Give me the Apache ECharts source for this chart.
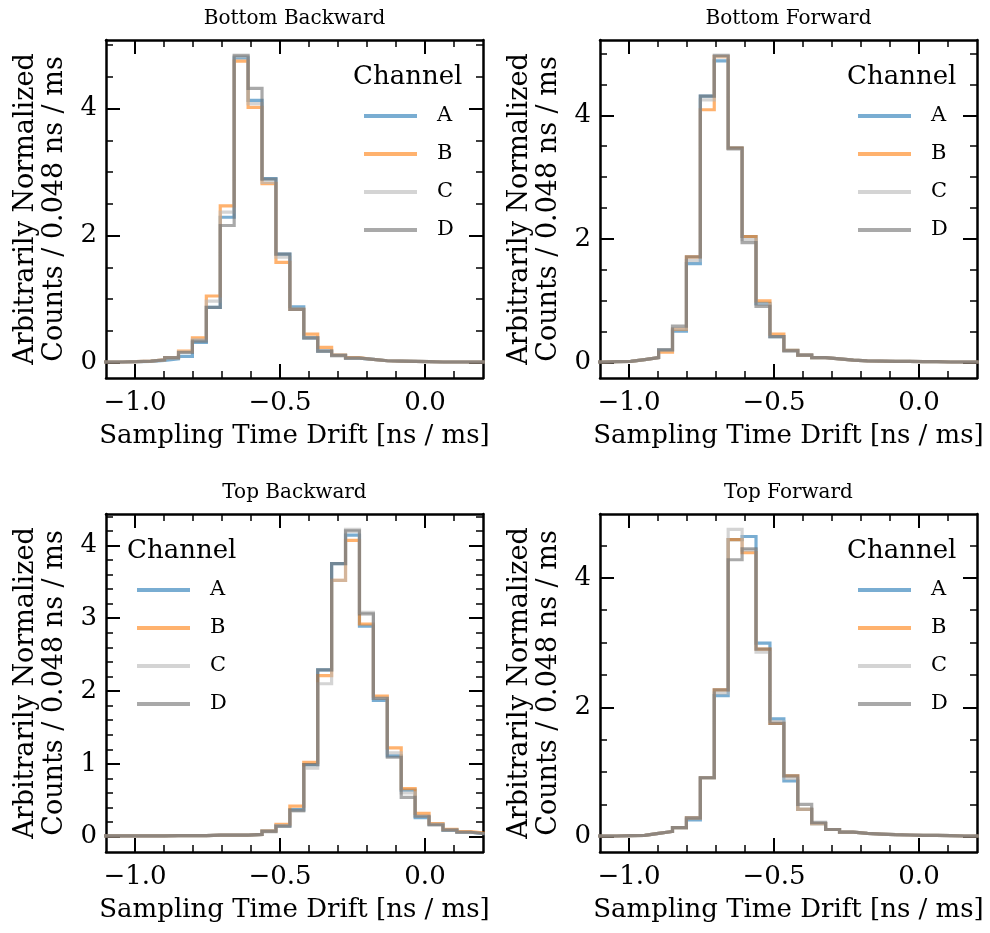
<!DOCTYPE html>
<html><head><meta charset="utf-8">
<script src="https://cdn.jsdelivr.net/npm/echarts@6/dist/echarts.min.js"></script>
<style>html,body{margin:0;padding:0;background:#fff}#c{width:990px;height:933px}</style>
</head><body><div id="c"></div>
<script>
// ---------------- data ----------------
const binStart = -1.138;   // left edge of first bin [ns / ms]
const binWidth = 0.048;    // bin width [ns / ms]
const channels = ['A', 'B', 'C', 'D'];
const panelTitles = ['Bottom Backward', 'Bottom Forward', 'Top Backward', 'Top Forward'];
const xRange = [-1.1, 0.2];
const xMajorTicks = [-1.0, -0.5, 0.0];
const xMinorTicks = [-0.9, -0.8, -0.7, -0.6, -0.4, -0.3, -0.2, -0.1, 0.1];
const yMajorTicks = [[0, 2, 4], [0, 2, 4], [0, 1, 2, 3, 4], [0, 2, 4]];
const yMinorTicks = [
  [0.5, 1, 1.5, 2.5, 3, 3.5, 4.5, 5],
  [0.5, 1, 1.5, 2.5, 3, 3.5, 4.5, 5],
  [0.2, 0.4, 0.6, 0.8, 1.2, 1.4, 1.6, 1.8, 2.2, 2.4, 2.6, 2.8, 3.2, 3.4, 3.6, 3.8, 4.2, 4.4],
  [0.5, 1, 1.5, 2.5, 3, 3.5, 4.5, 5]
];

// Bottom Backward
const bbA = [0.01,0.01,0.015,0.02,0.035,0.06,0.10,0.32,0.87,2.29,4.80,4.13,2.90,1.71,0.88,0.39,0.18,0.12,0.07,0.05,0.03,0.025,0.02,0.015,0.01,0.01,0.01,0.01];
const bbB = [0.01,0.01,0.015,0.025,0.045,0.08,0.18,0.39,1.05,2.47,4.75,4.02,2.82,1.58,0.84,0.45,0.24,0.12,0.08,0.05,0.03,0.025,0.02,0.015,0.01,0.01,0.01,0.01];
const bbC = [0.01,0.01,0.015,0.025,0.045,0.08,0.17,0.36,0.97,2.37,4.82,4.08,2.84,1.66,0.84,0.39,0.18,0.11,0.07,0.05,0.03,0.025,0.02,0.015,0.01,0.01,0.01,0.01];
const bbD = [0.01,0.01,0.015,0.025,0.045,0.08,0.16,0.34,0.87,2.16,4.84,4.32,2.89,1.71,0.84,0.39,0.18,0.11,0.07,0.05,0.03,0.025,0.02,0.015,0.01,0.01,0.01,0.01];
// Bottom Forward
const bfA = [0.01,0.015,0.02,0.05,0.08,0.20,0.51,1.60,4.31,4.88,3.47,2.04,0.96,0.42,0.20,0.12,0.08,0.06,0.04,0.03,0.025,0.02,0.02,0.015,0.015,0.01,0.01,0.01];
const bfB = [0.01,0.015,0.02,0.05,0.08,0.17,0.54,1.71,4.09,4.95,3.47,2.04,1.00,0.46,0.20,0.12,0.08,0.06,0.04,0.03,0.025,0.02,0.02,0.015,0.015,0.01,0.01,0.01];
const bfC = [0.01,0.015,0.02,0.05,0.08,0.20,0.55,1.65,4.25,4.95,3.45,1.99,0.94,0.42,0.19,0.12,0.08,0.06,0.04,0.03,0.025,0.02,0.02,0.015,0.015,0.01,0.01,0.01];
const bfD = [0.01,0.015,0.02,0.05,0.08,0.21,0.59,1.71,4.31,4.97,3.47,1.94,0.91,0.42,0.19,0.12,0.08,0.06,0.04,0.03,0.025,0.02,0.02,0.015,0.015,0.01,0.01,0.01];
// Top Backward
const tbA = [0.01,0.01,0.01,0.01,0.01,0.015,0.015,0.015,0.02,0.02,0.02,0.03,0.08,0.15,0.37,0.99,2.29,3.75,4.14,2.89,1.87,1.11,0.64,0.26,0.17,0.09,0.06,0.04];
const tbB = [0.01,0.01,0.01,0.01,0.01,0.015,0.015,0.015,0.02,0.02,0.02,0.03,0.08,0.17,0.42,1.02,2.21,3.52,4.07,2.92,1.93,1.22,0.66,0.32,0.18,0.10,0.07,0.05];
const tbC = [0.01,0.01,0.01,0.01,0.01,0.015,0.015,0.015,0.02,0.02,0.02,0.03,0.08,0.15,0.35,0.94,2.10,3.52,4.22,3.08,1.90,1.15,0.60,0.28,0.17,0.09,0.06,0.04];
const tbD = [0.01,0.01,0.01,0.01,0.01,0.015,0.015,0.015,0.02,0.02,0.02,0.03,0.07,0.14,0.36,0.99,2.29,3.75,4.20,3.06,1.90,1.09,0.54,0.28,0.16,0.09,0.06,0.04];
// Top Forward
const tfA = [0.01,0.01,0.015,0.02,0.05,0.08,0.14,0.26,0.91,2.18,4.59,4.64,2.99,1.82,0.86,0.42,0.20,0.11,0.07,0.05,0.04,0.03,0.025,0.02,0.02,0.015,0.01,0.01];
const tfB = [0.01,0.01,0.015,0.02,0.05,0.08,0.14,0.29,0.91,2.27,4.59,4.39,2.90,1.75,0.94,0.42,0.20,0.11,0.07,0.05,0.04,0.03,0.025,0.02,0.02,0.015,0.01,0.01];
const tfC = [0.01,0.01,0.015,0.02,0.05,0.08,0.14,0.29,0.91,2.22,4.75,4.43,2.85,1.78,0.90,0.42,0.20,0.11,0.07,0.05,0.04,0.03,0.025,0.02,0.02,0.015,0.01,0.01];
const tfD = [0.01,0.01,0.015,0.02,0.05,0.08,0.14,0.29,0.91,2.27,4.28,4.45,2.90,1.75,0.94,0.50,0.22,0.11,0.07,0.05,0.04,0.03,0.025,0.02,0.02,0.015,0.01,0.01];

const panelData = [[bbA, bbB, bbC, bbD], [bfA, bfB, bfC, bfD], [tbA, tbB, tbC, tbD], [tfA, tfB, tfC, tfD]];

// ---------------- style / layout ----------------
const FONT = 'DejaVu Serif';
const colors = ['rgba(31,119,180,0.6)', 'rgba(255,127,14,0.6)', 'rgba(184,184,184,0.6)', 'rgba(112,112,112,0.6)'];
const grids = [
  { left: 106, top: 40, width: 377, height: 338 },
  { left: 600, top: 40, width: 377, height: 338 },
  { left: 106, top: 514, width: 377, height: 338 },
  { left: 600, top: 514, width: 377, height: 338 }
];
const legendOnLeft = [false, false, true, false];

function fmtX(v) { return (Math.abs(v) < 1e-9 ? 0 : v).toFixed(1).replace('-', '\u2212'); }

const xAxis = [], yAxis = [], series = [], legend = [], title = [];
grids.forEach((g, p) => {
  const vals = panelData[p];
  const M = Math.max(...vals.map(a => Math.max(...a)));
  const yMin = -0.05 * M, yMax = 1.05 * M;
  [['bottom', true], ['bottom', false], ['top', true], ['top', false]].forEach(([pos, major]) => {
    const labelled = pos === 'bottom' && major;
    xAxis.push({
      type: 'value', gridIndex: p, position: pos, min: xRange[0], max: xRange[1],
      axisLine: { show: major, onZero: false, lineStyle: { color: '#000', width: 2.5 } },
      axisTick: { show: true, inside: true, length: major ? 14 : 7,
        lineStyle: { color: '#000', width: major ? 2 : 1.5 },
        customValues: major ? xMajorTicks : xMinorTicks },
      axisLabel: { show: labelled, customValues: xMajorTicks, formatter: fmtX, margin: 12,
        color: '#000', fontFamily: FONT, fontSize: 26 },
      splitLine: { show: false },
      name: labelled ? 'Sampling Time Drift [ns / ms]' : '',
      nameLocation: 'middle', nameGap: 45,
      nameTextStyle: { color: '#000', fontFamily: FONT, fontSize: 26 }
    });
  });
  [['left', true], ['left', false], ['right', true], ['right', false]].forEach(([pos, major]) => {
    const labelled = pos === 'left' && major;
    yAxis.push({
      type: 'value', gridIndex: p, position: pos, min: yMin, max: yMax,
      axisLine: { show: major, onZero: false, lineStyle: { color: '#000', width: 2.5 } },
      axisTick: { show: true, inside: true, length: major ? 14 : 7,
        lineStyle: { color: '#000', width: major ? 2 : 1.5 },
        customValues: major ? yMajorTicks[p] : yMinorTicks[p] },
      axisLabel: { show: labelled, customValues: yMajorTicks[p], formatter: v => String(Math.round(v)), margin: 9,
        color: '#000', fontFamily: FONT, fontSize: 26 },
      splitLine: { show: false },
      name: labelled ? 'Arbitrarily Normalized\nCounts / 0.048 ns / ms' : '',
      nameLocation: 'middle', nameGap: 37, nameRotate: 90,
      nameTextStyle: { color: '#000', fontFamily: FONT, fontSize: 27, lineHeight: 29 }
    });
  });
  channels.forEach((ch, c) => {
    const v = vals[c];
    const pts = v.map((y, i) => [binStart + i * binWidth, y]);
    pts.push([binStart + v.length * binWidth, v[v.length - 1]]);
    series.push({
      type: 'line', name: ch, xAxisIndex: 4 * p, yAxisIndex: 4 * p, data: pts,
      step: 'end', symbol: 'none', clip: true, color: colors[c],
      lineStyle: { color: colors[c], width: 3.2, join: 'miter', cap: 'butt' },
      itemStyle: { color: colors[c] }
    });
  });
  const lx = legendOnLeft[p] ? g.left + 31 : g.left + 258;
  legend.push({
    data: channels, orient: 'vertical', left: lx, top: g.top + 65, icon: 'rect',
    itemWidth: 53, itemHeight: 4, itemGap: 16, padding: 0, selectedMode: false,
    textStyle: { color: '#000', fontFamily: FONT, fontSize: 21, lineHeight: 22, padding: [0, 0, 0, 15] }
  });
  title.push({
    text: panelTitles[p], left: g.left + g.width / 2, top: g.top - 32, textAlign: 'center', padding: 0,
    textStyle: { color: '#000', fontFamily: FONT, fontSize: 20, fontWeight: 'normal', lineHeight: 22 }
  });
  title.push({
    text: 'Channel', left: legendOnLeft[p] ? g.left + 21 : g.left + 247, top: g.top + 24, padding: 0,
    textStyle: { color: '#000', fontFamily: FONT, fontSize: 26, fontWeight: 'normal', lineHeight: 27 }
  });
});

const chart = echarts.init(document.getElementById('c'), null, { renderer: 'canvas' });
chart.setOption({
  animation: false, backgroundColor: '#fff',
  grid: grids, xAxis, yAxis, series, legend, title
});
</script></body></html>
